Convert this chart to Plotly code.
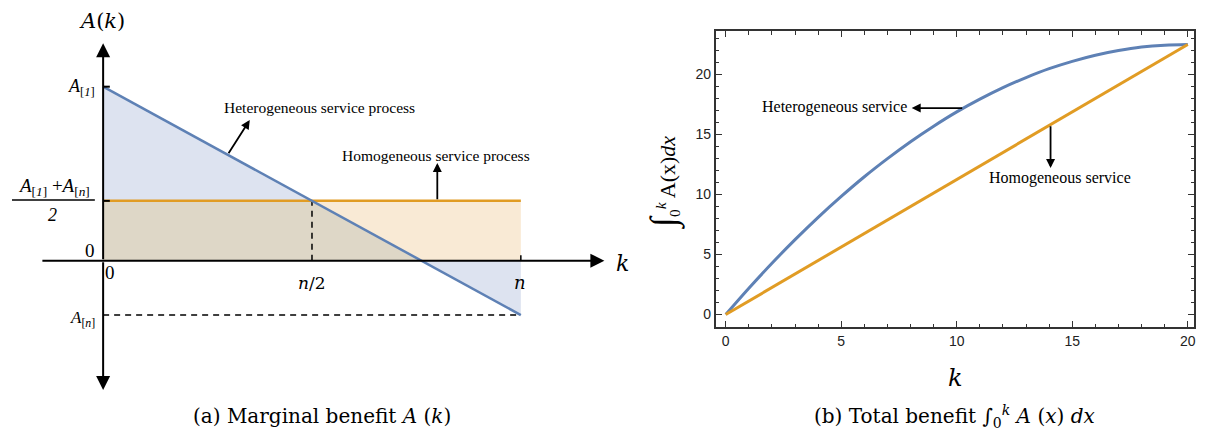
import plotly.graph_objects as go

W, H = 1205, 441

# ---------------- data ----------------
# panel (a): schematic marginal benefit
a_k = [0.0, 1.0]            # k from 0 to n (n = 1)
a_het = [3.2, -1.0]         # A[1] ... A[n]
a_hom = [1.1, 1.1]          # (A[1]+A[n])/2
a_half = 0.5                # n/2
a_cross = 0.762             # where heterogeneous line crosses 0

# panel (b): total benefit
b_k = list(range(0, 21))
b_het = [0, 2.19, 4.27, 6.24, 8.1, 9.84, 11.48, 12.99, 14.4, 15.69, 16.88,
         17.94, 18.9, 19.74, 20.48, 21.09, 21.6, 21.99, 22.28, 22.44, 22.5]
b_hom_k = [0, 20]
b_hom = [0, 22.5]
b_ticks = [0, 5, 10, 15, 20]

BLUE = "#5E81B5"
ORANGE = "#E19C24"
SERIF = "Liberation Serif"
SANS = "Liberation Sans"


def px(x):
    return x / W


def py(y):
    return 1 - y / H


fig = go.Figure()

# ---------- panel (a) fills ----------
fills = [
    ([a_k[0], a_k[0], a_half], [a_hom[0], a_het[0], a_hom[0]], "rgb(221,227,240)"),
    ([a_k[0], a_k[0], a_half, a_cross], [0, a_hom[0], a_hom[0], 0], "rgb(222,215,199)"),
    ([a_half, a_k[1], a_k[1], a_cross], [a_hom[0], a_hom[1], 0, 0], "rgb(249,234,213)"),
    ([a_cross, a_k[1], a_k[1]], [0, 0, a_het[1]], "rgb(221,227,240)"),
]
for xs, ys, col in fills:
    fig.add_trace(go.Scatter(x=xs, y=ys, fill="toself", fillcolor=col, mode="none",
                             hoverinfo="skip", showlegend=False, xaxis="x", yaxis="y"))

# dashed guides
fig.add_trace(go.Scatter(x=[a_k[0], a_k[1]], y=[a_het[1], a_het[1]], mode="lines",
                         line=dict(color="black", width=1.5, dash="6px,5px"),
                         showlegend=False, xaxis="x", yaxis="y"))
fig.add_trace(go.Scatter(x=[a_half, a_half], y=[0, a_hom[0]], mode="lines",
                         line=dict(color="black", width=1.5, dash="6px,5px"),
                         showlegend=False, xaxis="x", yaxis="y"))
# lines
fig.add_trace(go.Scatter(x=a_k, y=a_hom, mode="lines", line=dict(color=ORANGE, width=2.5),
                         showlegend=False, xaxis="x", yaxis="y"))
fig.add_trace(go.Scatter(x=a_k, y=a_het, mode="lines", line=dict(color=BLUE, width=2.5),
                         showlegend=False, xaxis="x", yaxis="y"))
# small ticks
for yy in [a_het[0], a_hom[0]]:
    fig.add_trace(go.Scatter(x=[0, 0.016], y=[yy, yy], mode="lines",
                             line=dict(color="black", width=2), showlegend=False,
                             xaxis="x", yaxis="y"))
fig.add_trace(go.Scatter(x=[a_k[1], a_k[1]], y=[0, 0.1], mode="lines",
                         line=dict(color="black", width=1.5), showlegend=False,
                         xaxis="x", yaxis="y"))

# ---------- panel (b) ----------
fig.add_trace(go.Scatter(x=b_k, y=b_het, mode="lines", line=dict(color=BLUE, width=3, shape="spline"),
                         showlegend=False, xaxis="x2", yaxis="y2"))
fig.add_trace(go.Scatter(x=b_hom_k, y=b_hom, mode="lines", line=dict(color=ORANGE, width=3),
                         showlegend=False, xaxis="x2", yaxis="y2"))

ann = []
# axes arrows panel (a)
for (hx, hy, tx, ty) in [(0, 4.0, 0, 0), (0, -2.38, 0, 0), (1.2, 0, -0.149, 0)]:
    ann.append(dict(x=hx, y=hy, ax=tx, ay=ty, xref="x", yref="y", axref="x", ayref="y",
                    text="", showarrow=True, arrowhead=2, arrowsize=1.4, arrowwidth=2,
                    arrowcolor="black"))
# pointer arrows panel (a)
ann.append(dict(x=0.351, y=2.588, ax=0.298, ay=1.948, xref="x", yref="y", axref="x", ayref="y",
                text="", showarrow=True, arrowhead=2, arrowsize=1, arrowwidth=1.8, arrowcolor="black"))
ann.append(dict(x=0.80, y=1.797, ax=0.80, ay=1.1, xref="x", yref="y", axref="x", ayref="y",
                text="", showarrow=True, arrowhead=2, arrowsize=1, arrowwidth=1.8, arrowcolor="black"))
# pointer arrows panel (b)
ann.append(dict(x=8.05, y=17.2, ax=10.3, ay=17.2, xref="x2", yref="y2", axref="x2", ayref="y2",
                text="", showarrow=True, arrowhead=2, arrowsize=1, arrowwidth=1.8, arrowcolor="black"))
ann.append(dict(x=14.06, y=12.2, ax=14.06, ay=15.8, xref="x2", yref="y2", axref="x2", ayref="y2",
                text="", showarrow=True, arrowhead=2, arrowsize=1, arrowwidth=1.8, arrowcolor="black"))


def txt(x, y, s, size=17, anchor="center", font=SERIF, angle=0, style="normal"):
    ann.append(dict(x=px(x), y=py(y), xref="paper", yref="paper", text=s, showarrow=False,
                    xanchor=anchor, yanchor="middle", textangle=angle,
                    font=dict(family=font, size=size, color="black", style=style)))


IA = "\U0001D434"   # math italic A
IK = "\U0001D458"   # math italic k
IN = "\U0001D45B"   # math italic n

# panel (a) texts
txt(102, 21, f"{IA}({IK})", 21, font="DejaVu Serif")
txt(624, 263, IK, 22, font="DejaVu Serif")
txt(97, 87, "<i>A</i><sub>[<i>1</i>]</sub>", 18, "right")
txt(54, 187, "<i>A</i><sub>[<i>1</i>]</sub> +<i>A</i><sub>[<i>n</i>]</sub>", 19)
txt(53, 215, "2", 18, style="italic")
txt(97, 250, "0", 19, "right")
txt(110, 272, "0", 19)
txt(313, 283, f"{IN}/2", 17, font="DejaVu Serif")
txt(521, 282, IN, 18, font="DejaVu Serif")
txt(97, 319, "<i>A</i><sub>[<i>n</i>]</sub>", 17, "right")
txt(320, 107, "Heterogeneous service process", 15.5)
txt(437, 156, "Homogeneous service process", 15.5)
# panel (b) texts
txt(836, 107, "Heterogeneous service", 16)
txt(1062, 178, "Homogeneous service", 16)
txt(957, 378, IK, 24, font="DejaVu Serif")
txt(665, 182, "<span style='font-size:36px'>∫</span><sub>0</sub><sup><i>k</i></sup> A(x)<i>dx</i>", 22,
    angle=-90)
# captions
txt(323, 416, "(a) Marginal benefit <i>A</i> (<i>k</i>)", 20, font="DejaVu Serif")
txt(956, 416, "(b) Total benefit ∫<sub>0</sub><sup><i>k</i></sup> <i>A</i> (<i>x</i>) <i>dx</i>", 20,
    font="DejaVu Serif")

shapes = [dict(type="line", xref="paper", yref="paper", x0=px(12), x1=px(95), y0=py(200), y1=py(200),
               line=dict(color="black", width=1.3))]

axis_b = dict(showline=True, mirror="allticks", linecolor="#333", linewidth=2,
              ticks="inside", ticklen=6, tickwidth=1.3, tickcolor="#333",
              showgrid=False, zeroline=False,
              tickfont=dict(family=SANS, size=14, color="#222"),
              minor=dict(ticks="inside", ticklen=3.5, tickwidth=1.1, tickcolor="#333", dtick=1,
                         showgrid=False))

fig.update_layout(
    width=W, height=H, margin=dict(l=0, r=0, t=0, b=0),
    paper_bgcolor="white", plot_bgcolor="white",
    xaxis=dict(domain=[0, 0.55], range=[-0.2469, 1.3371], visible=False, fixedrange=True),
    yaxis=dict(domain=[0, 1], range=[-3.316, 4.794], visible=False, fixedrange=True),
    xaxis2=dict(domain=[px(717), px(1196)], range=[-0.43, 20.27], anchor="y2",
                tickvals=b_ticks, **axis_b),
    yaxis2=dict(domain=[py(327), py(31)], range=[-1.04, 23.62], anchor="x2",
                tickvals=b_ticks, **axis_b),
    annotations=ann, shapes=shapes,
)

fig.write_html("out.html")
